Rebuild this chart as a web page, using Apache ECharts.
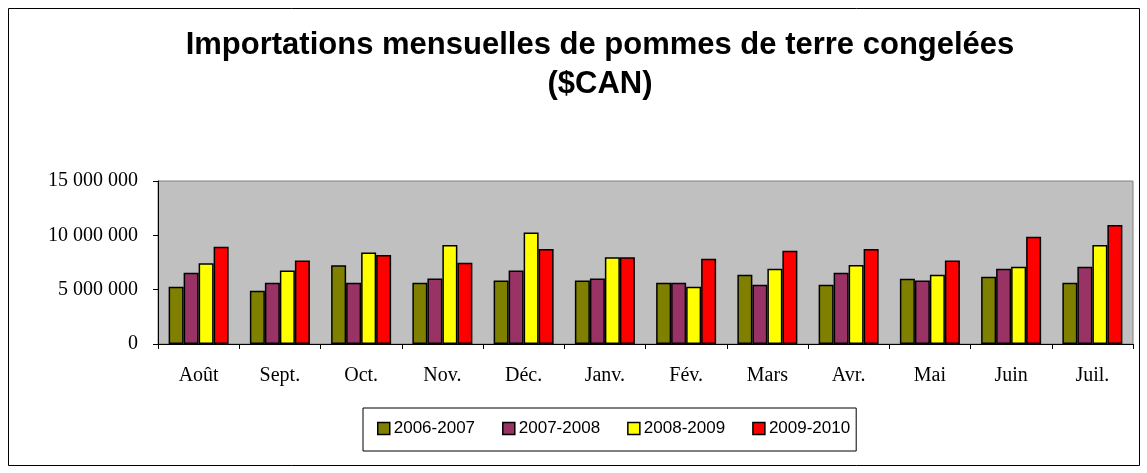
<!DOCTYPE html>
<html>
<head>
<meta charset="utf-8">
<script src="https://cdn.jsdelivr.net/npm/echarts@6/dist/echarts.min.js"></script>
<style>
  html, body { margin: 0; padding: 0; background: #fff; }
  #chart { width: 1147px; height: 473px; }
</style>
</head>
<body>
<div id="chart"></div>
<script>
// mois (août à juillet)
var months = ['Août', 'Sept.', 'Oct.', 'Nov.', 'Déc.', 'Janv.', 'Fév.', 'Mars', 'Avr.', 'Mai', 'Juin', 'Juil.'];

// valeurs en $CAN
var y2006_2007 = [5260000, 4900000, 7250000, 5630000, 5850000, 5850000, 5630000, 6370000, 5450000, 6000000, 6180000, 5630000];
var y2007_2008 = [6550000, 5630000, 5630000, 6030000, 6760000, 6030000, 5630000, 5450000, 6550000, 5850000, 6920000, 7100000];
var y2008_2009 = [7440000, 6760000, 8420000, 9120000, 10250000, 7990000, 5260000, 6920000, 7280000, 6370000, 7100000, 9120000];
var y2009_2010 = [8940000, 7680000, 8200000, 7470000, 8750000, 7990000, 7840000, 8570000, 8750000, 7680000, 9860000, 10960000];

var seriesNames = ['2006-2007', '2007-2008', '2008-2009', '2009-2010'];
var seriesData = [y2006_2007, y2007_2008, y2008_2009, y2009_2010];
var colors = ['#808000', '#993366', '#ffff00', '#ff0000'];

function spaced(v) {
    return String(v).replace(/\B(?=(\d{3})+(?!\d))/g, ' ');
}

var chart = echarts.init(document.getElementById('chart'));

var series = seriesData.map(function (d, i) {
    return {
        name: seriesNames[i],
        type: 'bar',
        data: d,
        barWidth: 15,
        barGap: '0%',
        itemStyle: { color: colors[i], borderColor: '#000', borderWidth: 1.5 },
        emphasis: { disabled: true }
    };
});

chart.setOption({
    animation: false,
    color: colors,
    graphic: [{
        type: 'rect',
        shape: { x: 8.5, y: 8.5, width: 1131, height: 457 },
        style: { fill: null, stroke: '#000', lineWidth: 1 },
        silent: true
    }, {
        // titre centré un peu à droite, comme dans l'original
        type: 'text',
        x: 600,
        y: 26,
        silent: true,
        style: {
            text: 'Importations mensuelles de pommes de terre congelées\n($CAN)',
            align: 'center',
            verticalAlign: 'top',
            font: 'bold 31px "Liberation Sans", Arial, sans-serif',
            lineHeight: 39,
            fill: '#000'
        }
    }],
    legend: {
        data: seriesNames,
        left: 363,
        top: 408,
        padding: [12, 6, 14, 14],
        borderColor: '#000',
        borderWidth: 1,
        itemWidth: 12,
        itemHeight: 12,
        itemGap: 27,
        icon: 'rect',
        itemStyle: { borderColor: '#000', borderWidth: 1.5 },
        textStyle: {
            fontFamily: 'Liberation Sans, Arial, sans-serif',
            fontSize: 17,
            color: '#000',
            padding: [0, 0, 0, -1]
        }
    },
    grid: {
        left: 158,
        right: 14,
        top: 181,
        height: 163,
        show: true,
        backgroundColor: '#c0c0c0',
        borderColor: '#808080',
        borderWidth: 1
    },
    xAxis: {
        type: 'category',
        data: months,
        axisLine: { lineStyle: { color: '#000', width: 1 } },
        axisTick: { show: true, length: 5, lineStyle: { color: '#000' } },
        axisLabel: {
            fontFamily: 'Liberation Serif, Times New Roman, serif',
            fontSize: 20,
            color: '#000',
            margin: 22
        }
    },
    yAxis: {
        type: 'value',
        min: 0,
        max: 15000000,
        interval: 5000000,
        splitLine: { show: false },
        axisLine: { show: true, lineStyle: { color: '#000', width: 1 } },
        axisTick: { show: true, length: 5, lineStyle: { color: '#000' } },
        axisLabel: {
            fontFamily: 'Liberation Serif, Times New Roman, serif',
            fontSize: 20,
            color: '#000',
            margin: 20,
            formatter: spaced
        }
    },
    series: series
});
</script>
</body>
</html>
